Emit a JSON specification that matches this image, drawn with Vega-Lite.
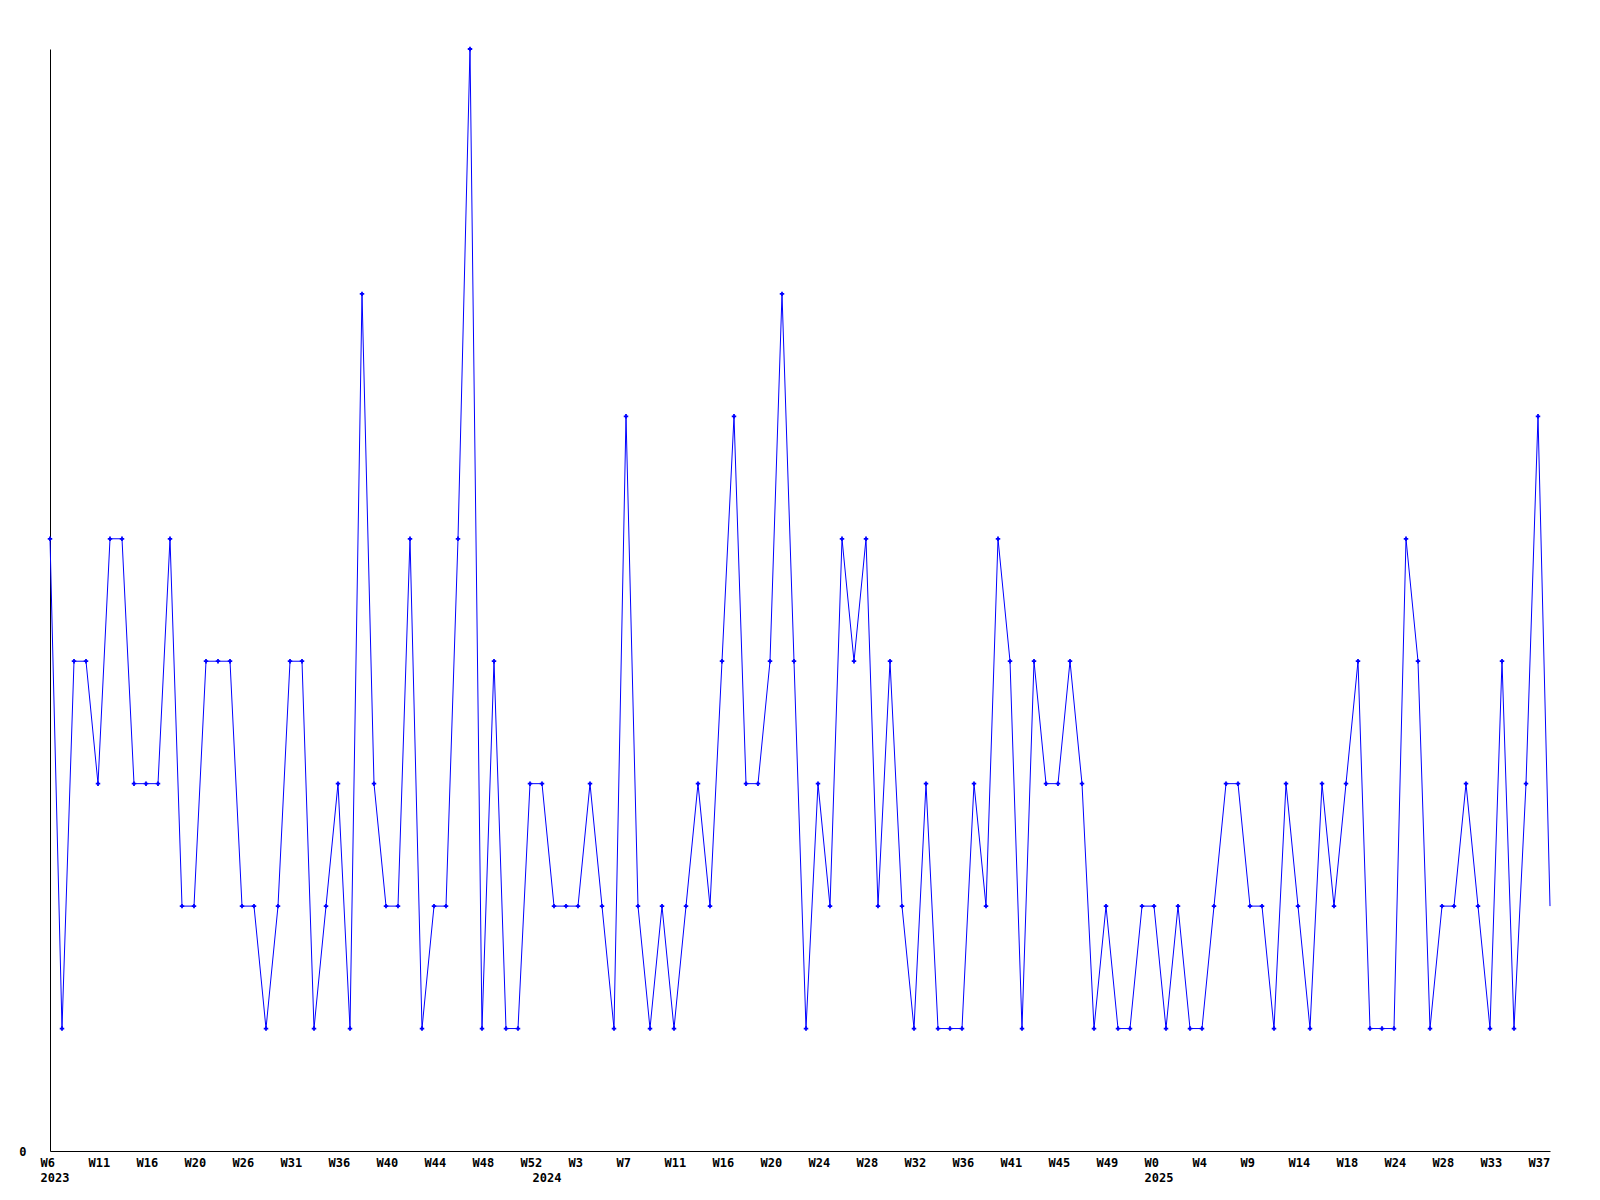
{
  "$schema": "https://vega.github.io/schema/vega-lite/v6.json",
  "autosize": {"type": "none"},
  "width": 1500,
  "height": 1102,
  "padding": {"left": 50, "top": 49, "right": 50, "bottom": 49},
  "background": "white",
  "config": {
    "view": {"stroke": null},
    "axis": {
      "domainColor": "black",
      "domainWidth": 1,
      "ticks": false,
      "grid": false,
      "labelColor": "black",
      "labelFont": "DejaVu Sans Mono",
      "labelFontWeight": "bold",
      "labelFontSize": 12,
      "title": null
    }
  },
  "data": {
    "values": [
      {"week": "2023 W6", "count": 5},
      {"week": "2023 W7", "count": 1},
      {"week": "2023 W8", "count": 4},
      {"week": "2023 W9", "count": 4},
      {"week": "2023 W11", "count": 3},
      {"week": "2023 W12", "count": 5},
      {"week": "2023 W13", "count": 5},
      {"week": "2023 W14", "count": 3},
      {"week": "2023 W16", "count": 3},
      {"week": "2023 W17", "count": 3},
      {"week": "2023 W18", "count": 5},
      {"week": "2023 W19", "count": 2},
      {"week": "2023 W20", "count": 2},
      {"week": "2023 W21", "count": 4},
      {"week": "2023 W22", "count": 4},
      {"week": "2023 W24", "count": 4},
      {"week": "2023 W26", "count": 2},
      {"week": "2023 W27", "count": 2},
      {"week": "2023 W28", "count": 1},
      {"week": "2023 W29", "count": 2},
      {"week": "2023 W31", "count": 4},
      {"week": "2023 W32", "count": 4},
      {"week": "2023 W33", "count": 1},
      {"week": "2023 W34", "count": 2},
      {"week": "2023 W36", "count": 3},
      {"week": "2023 W37", "count": 1},
      {"week": "2023 W38", "count": 7},
      {"week": "2023 W39", "count": 3},
      {"week": "2023 W40", "count": 2},
      {"week": "2023 W41", "count": 2},
      {"week": "2023 W42", "count": 5},
      {"week": "2023 W43", "count": 1},
      {"week": "2023 W44", "count": 2},
      {"week": "2023 W45", "count": 2},
      {"week": "2023 W46", "count": 5},
      {"week": "2023 W47", "count": 9},
      {"week": "2023 W48", "count": 1},
      {"week": "2023 W49", "count": 4},
      {"week": "2023 W50", "count": 1},
      {"week": "2023 W51", "count": 1},
      {"week": "2023 W52", "count": 3},
      {"week": "2024 W0", "count": 3},
      {"week": "2024 W1", "count": 2},
      {"week": "2024 W2", "count": 2},
      {"week": "2024 W3", "count": 2},
      {"week": "2024 W4", "count": 3},
      {"week": "2024 W5", "count": 2},
      {"week": "2024 W6", "count": 1},
      {"week": "2024 W7", "count": 6},
      {"week": "2024 W8", "count": 2},
      {"week": "2024 W9", "count": 1},
      {"week": "2024 W10", "count": 2},
      {"week": "2024 W11", "count": 1},
      {"week": "2024 W12", "count": 2},
      {"week": "2024 W13", "count": 3},
      {"week": "2024 W15", "count": 2},
      {"week": "2024 W16", "count": 4},
      {"week": "2024 W17", "count": 6},
      {"week": "2024 W18", "count": 3},
      {"week": "2024 W19", "count": 3},
      {"week": "2024 W20", "count": 4},
      {"week": "2024 W21", "count": 7},
      {"week": "2024 W22", "count": 4},
      {"week": "2024 W23", "count": 1},
      {"week": "2024 W24", "count": 3},
      {"week": "2024 W25", "count": 2},
      {"week": "2024 W26", "count": 5},
      {"week": "2024 W27", "count": 4},
      {"week": "2024 W28", "count": 5},
      {"week": "2024 W29", "count": 2},
      {"week": "2024 W30", "count": 4},
      {"week": "2024 W31", "count": 2},
      {"week": "2024 W32", "count": 1},
      {"week": "2024 W33", "count": 3},
      {"week": "2024 W34", "count": 1},
      {"week": "2024 W35", "count": 1},
      {"week": "2024 W36", "count": 1},
      {"week": "2024 W37", "count": 3},
      {"week": "2024 W38", "count": 2},
      {"week": "2024 W39", "count": 5},
      {"week": "2024 W41", "count": 4},
      {"week": "2024 W42", "count": 1},
      {"week": "2024 W43", "count": 4},
      {"week": "2024 W44", "count": 3},
      {"week": "2024 W45", "count": 3},
      {"week": "2024 W46", "count": 4},
      {"week": "2024 W47", "count": 3},
      {"week": "2024 W48", "count": 1},
      {"week": "2024 W49", "count": 2},
      {"week": "2024 W50", "count": 1},
      {"week": "2024 W51", "count": 1},
      {"week": "2024 W52", "count": 2},
      {"week": "2025 W0", "count": 2},
      {"week": "2025 W1", "count": 1},
      {"week": "2025 W2", "count": 2},
      {"week": "2025 W3", "count": 1},
      {"week": "2025 W4", "count": 1},
      {"week": "2025 W5", "count": 2},
      {"week": "2025 W6", "count": 3},
      {"week": "2025 W7", "count": 3},
      {"week": "2025 W9", "count": 2},
      {"week": "2025 W10", "count": 2},
      {"week": "2025 W11", "count": 1},
      {"week": "2025 W12", "count": 3},
      {"week": "2025 W14", "count": 2},
      {"week": "2025 W15", "count": 1},
      {"week": "2025 W16", "count": 3},
      {"week": "2025 W17", "count": 2},
      {"week": "2025 W18", "count": 3},
      {"week": "2025 W19", "count": 4},
      {"week": "2025 W20", "count": 1},
      {"week": "2025 W22", "count": 1},
      {"week": "2025 W24", "count": 1},
      {"week": "2025 W25", "count": 5},
      {"week": "2025 W26", "count": 4},
      {"week": "2025 W27", "count": 1},
      {"week": "2025 W28", "count": 2},
      {"week": "2025 W29", "count": 2},
      {"week": "2025 W31", "count": 3},
      {"week": "2025 W32", "count": 2},
      {"week": "2025 W33", "count": 1},
      {"week": "2025 W34", "count": 4},
      {"week": "2025 W35", "count": 1},
      {"week": "2025 W36", "count": 3},
      {"week": "2025 W37", "count": 6},
      {"week": "2025 W38", "count": 2}
    ]
  },
  "encoding": {
    "x": {
      "field": "week",
      "type": "ordinal",
      "sort": null,
      "scale": {"type": "point", "padding": 0},
      "axis": {
        "values": ["2023 W6","2023 W11","2023 W16","2023 W20","2023 W26","2023 W31","2023 W36","2023 W40","2023 W44","2023 W48","2023 W52","2024 W0","2024 W3","2024 W7","2024 W11","2024 W16","2024 W20","2024 W24","2024 W28","2024 W32","2024 W36","2024 W41","2024 W45","2024 W49","2025 W0","2025 W4","2025 W9","2025 W14","2025 W18","2025 W24","2025 W28","2025 W33","2025 W37"],
        "labelExpr": "(datum.value == '2023 W6' || datum.value == '2025 W0') ? [substring(datum.value, 5), substring(datum.value, 0, 4)] : (datum.value == '2024 W0' ? [' ', '2024'] : substring(datum.value, 5))",
        "labelAlign": "left",
        "labelBaseline": "top",
        "labelOffset": -10,
        "labelPadding": 6,
        "labelLineHeight": 15,
        "labelOverlap": false,
        "labelAngle": 0
      }
    },
    "y": {
      "field": "count",
      "type": "quantitative",
      "scale": {"domain": [0, 9], "nice": false, "zero": true},
      "axis": {
        "values": [0],
        "labelAlign": "right",
        "labelBaseline": "middle",
        "labelPadding": 24
      }
    }
  },
  "layer": [
    {
      "mark": {"type": "line", "color": "#0000ff", "strokeWidth": 1}
    },
    {
      "transform": [{"filter": "datum.week != '2025 W38'"}],
      "mark": {"type": "point", "shape": "cross", "filled": true, "color": "#0000ff", "size": 20, "opacity": 1}
    }
  ]
}
